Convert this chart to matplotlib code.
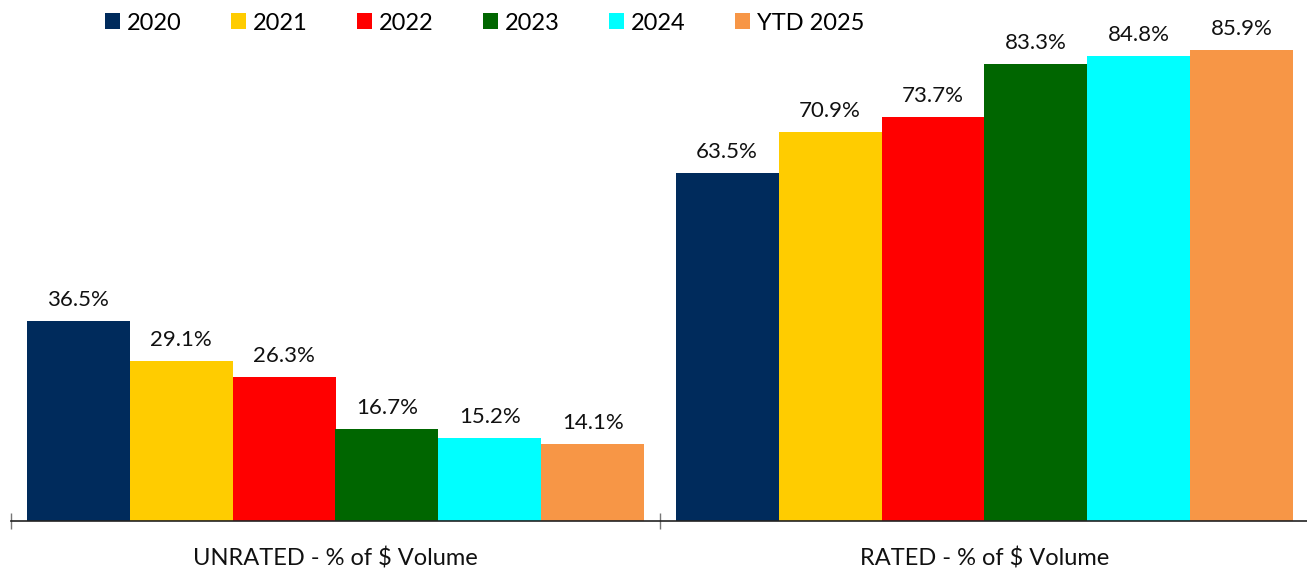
import matplotlib
matplotlib.use("Agg")
import matplotlib.pyplot as plt
import matplotlib.transforms as mtransforms
import numpy as np
from matplotlib.patches import Patch

categories = ["UNRATED - % of $ Volume", "RATED - % of $ Volume"]
series = ["2020", "2021", "2022", "2023", "2024", "YTD 2025"]
values = {
    "2020": [36.5, 63.5],
    "2021": [29.1, 70.9],
    "2022": [26.3, 73.7],
    "2023": [16.7, 83.3],
    "2024": [15.2, 84.8],
    "YTD 2025": [14.1, 85.9],
}
colors = ["#002B5C", "#FFCC00", "#FF0000", "#006600", "#00FFFF", "#F79646"]

plt.rcParams['font.family'] = ['Lato', 'DejaVu Sans']

W, H = 1307, 568
fig = plt.figure(figsize=(W / 100, H / 100), dpi=100)
ax_left, ax_right = 11, 1309
ax_bottom, ax_top = 521, 0
ax = fig.add_axes([ax_left / W, 1 - ax_bottom / H, (ax_right - ax_left) / W, (ax_bottom - ax_top) / H])
ax.set_xlim(-0.5, 1.5)
ax.set_ylim(0, 95)

x = np.arange(len(categories))
n = len(series)
group_w = 0.952
bw = group_w / n
for i, s in enumerate(series):
    pos = x - group_w / 2 + bw * (i + 0.5)
    ax.bar(pos, values[s], width=bw, color=colors[i], label=s, linewidth=0)
    for p, v in zip(pos, values[s]):
        ax.annotate(f"{v:.1f}%", (p, v), xytext=(0, 10.8), textcoords="offset points",
                    ha="center", va="baseline", fontsize=16, color="#111111")

for sp in ["top", "right", "left"]:
    ax.spines[sp].set_visible(False)
ax.spines["bottom"].set_color("#222222")
ax.spines["bottom"].set_linewidth(1.2)
ax.set_yticks([])
ax.set_xticks([-0.5, 0.5, 1.5])
ax.set_xticklabels([])
ax.tick_params(axis="x", which="major", direction="inout", length=12, color="#777777", width=1)

trans = mtransforms.blended_transform_factory(ax.transData, fig.transFigure)
for xi, c in zip(x, categories):
    ax.text(xi, 1 - 565 / H, c, transform=trans, ha="center", va="baseline",
            fontsize=17, color="#111111")

handles = [Patch(facecolor=c, label=s) for c, s in zip(colors, series)]
fig.legend(handles=handles, loc="center left", bbox_to_anchor=(105 / W, 1 - 23 / H), ncol=6,
           frameon=False, fontsize=17, handlelength=0.64, handleheight=0.64,
           handletextpad=0.28, columnspacing=2.1, borderpad=0, borderaxespad=0)

fig.savefig("out.png", dpi=100)
